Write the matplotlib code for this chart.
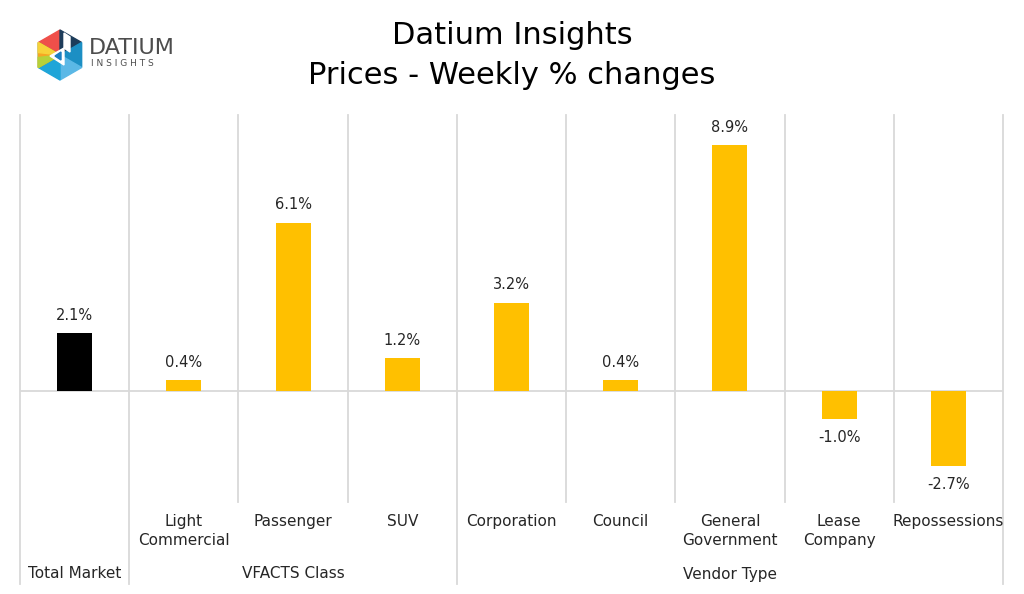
import matplotlib.pyplot as plt
from matplotlib.patches import Polygon
import numpy as np

# data
categories = ["Total Market", "Light\nCommercial", "Passenger", "SUV", "Corporation",
              "Council", "General\nGovernment", "Lease\nCompany", "Repossessions"]
values = [2.1, 0.4, 6.1, 1.2, 3.2, 0.4, 8.9, -1.0, -2.7]
groups = ["Total Market", "VFACTS Class", "Vendor Type"]
group_spans = [(0, 0), (1, 3), (4, 8)]

W, H = 1024, 594
fig = plt.figure(figsize=(W / 100, H / 100), dpi=100)
plt.rcParams['font.family'] = ['DejaVu Sans']

grid_c = '#d9d9d9'
txt_c = '#262626'

# plot area in pixels
left, right, top, bottom = 20, 1003, 115, 502
ax = fig.add_axes([left / W, 1 - bottom / H, (right - left) / W, (bottom - top) / H])
ax.set_xlim(-0.5, len(categories) - 0.5)
ax.set_ylim(-4, 10)
ax.axis('off')

x = np.arange(len(categories))
colors = ['black'] + ['#ffc000'] * (len(categories) - 1)
ax.bar(x, values, width=0.32, color=colors, zorder=3)
ax.axhline(0, color=grid_c, lw=1.3, zorder=2)

for xi, v in zip(x, values):
    off = 13 if v >= 0 else -13
    ax.annotate(f"{v:.1f}%", (xi, v), xytext=(0, off), textcoords='offset points',
                ha='center', va='center', fontsize=10.5, color=txt_c)

# vertical separators
trans = ax.get_xaxis_transform()
group_edges = {s - 0.5 for s, e in group_spans} | {group_spans[-1][1] + 0.5}
low_full = -(584 - bottom) / (bottom - top)
for b in np.arange(-0.5, len(categories), 1.0):
    y0 = low_full if b in group_edges else 0
    ax.plot([b, b], [y0, 1], color=grid_c, lw=1.3, transform=trans, clip_on=False, zorder=1)

# category labels
cat_y = -(514 - bottom) / (bottom - top)
for xi, c in zip(x[1:], categories[1:]):
    ax.text(xi, cat_y, c, transform=trans, ha='center', va='top', fontsize=11,
            color=txt_c, linespacing=1.35)

grp_y = -(574 - bottom) / (bottom - top)
for g, (s, e) in zip(groups, group_spans):
    ax.text((s + e) / 2, grp_y, g, transform=trans, ha='center', va='center',
            fontsize=11, color=txt_c)

# title
fig.text(512 / W, 1 - 35 / H, "Datium Insights", ha='center', va='center', fontsize=22, color='black')
fig.text(512 / W, 1 - 75 / H, "Prices - Weekly % changes", ha='center', va='center', fontsize=22, color='black')

# logo
lax = fig.add_axes([30 / W, 1 - 85 / H, 60 / W, 60 / H])
lax.set_xlim(-30, 30)
lax.set_ylim(-30, 30)
lax.set_aspect('equal')
lax.axis('off')
r = 25
ang = np.radians([150, 90, 30, -30, -90, -150])
pts = [(r * np.cos(a), r * np.sin(a)) for a in ang]
hex_cols = ['#ef4f4a', '#1d3c5a', '#1c8fc4', '#5bb8e6', '#1fa5d8', '#39a856']
for i in range(6):
    lax.add_patch(Polygon([(0, 0), pts[i], pts[(i + 1) % 6]], color=hex_cols[i]))
lax.add_patch(Polygon([(0, 0), pts[5], pts[0]], color='#f6a623'))
lax.add_patch(Polygon([(0, 0), (-r * 0.87, -r * 0.1), (-r * 0.87, -r * 0.5)], color='#b7d13a'))
lax.add_patch(Polygon([(0, 0), (-r * 0.87, r * 0.1), (-r * 0.87, r * 0.5)], color='#f7d23a'))
lax.add_patch(Polygon([(-10, -1), (4, 7), (4, -10)], color='white'))
lax.add_patch(Polygon([(-5, -1), (1, 3), (1, -5)], color='#1c7fc0'))
lax.add_patch(Polygon([(4, 7), (4, 22), (10, 18), (10, 3)], color='white'))

fig.text(89 / W, 1 - 48 / H, "DATIUM", ha='left', va='center', fontsize=16, color='#4d4d4d')
fig.text(91 / W, 1 - 64 / H, "I N S I G H T S", ha='left', va='center', fontsize=6.5, color='#4d4d4d')

fig.savefig('out.png', dpi=100)
